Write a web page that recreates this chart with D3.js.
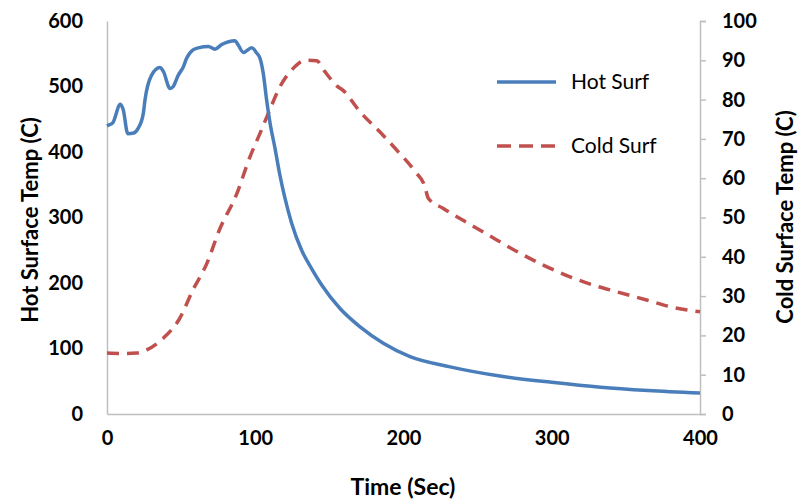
<!DOCTYPE html>
<html>
<head>
<meta charset="utf-8">
<script src="https://cdn.jsdelivr.net/npm/d3@7"></script>
<style>
  body { margin: 0; background: #fff; }
  text { font-family: Lato, "Open Sans", sans-serif; }
</style>
</head>
<body>
<div id="chart"></div>
<script>
// time (sec) and hot surface temperature
const hotTime = [0, 1, 4, 9, 11, 14, 18, 21, 24.5, 25.6, 30, 35.7, 38, 42.5, 44.7, 48, 51.5, 53.7, 58, 61.6, 68.4, 72.8, 77.4, 86.3, 88.6, 92, 97.6, 101, 103.2, 105.4, 107.7, 110, 113.3, 116.5, 120, 124.6, 131.3, 138, 144.8, 157.2, 170.7, 186.4, 204.4, 231.4, 265, 300, 333, 365, 400];
const hotTemp = [440, 441, 445, 473, 464, 428, 429, 436, 459, 479, 517, 529, 523, 497, 500, 517, 530, 543, 556, 559, 561, 557, 564, 570, 563, 552, 559, 551, 543, 520, 479, 444, 406, 366, 330, 291, 250, 222, 197, 161, 133, 108, 87.5, 72, 58, 48.5, 41, 36, 32];

// time (sec) and cold surface temperature (right axis)
const coldTime = [0, 10, 20, 26.8, 38, 49, 58, 67, 76, 87.5, 96.5, 103.2, 108.8, 116.7, 125.7, 133.6, 141.4, 147, 155, 159.4, 170.7, 184, 196.5, 207.8, 214.5, 216.7, 226.9, 247, 262.9, 278.6, 294.3, 312.3, 328, 343.8, 364, 382, 400];
const coldTemp = [15.5, 15.4, 15.5, 16.3, 19.3, 24.3, 31.6, 38, 47, 56, 65.5, 71.4, 76.5, 83.3, 88, 90, 89.9, 87.1, 83.5, 82.3, 76.9, 71.8, 66.7, 61.7, 57.8, 54.9, 52.3, 47.8, 44.3, 40.9, 37.9, 34.9, 32.8, 31.1, 29, 27.1, 26];

const xTicks = [0, 100, 200, 300, 400];
const leftTicks = [0, 100, 200, 300, 400, 500, 600];
const rightTicks = [0, 10, 20, 30, 40, 50, 60, 70, 80, 90, 100];
const seriesNames = ['Hot Surf', 'Cold Surf'];

const W = 798, H = 499;
const m = { left: 107, right: 700, top: 21, bottom: 414 };
const hotColor = '#4a7ebb', coldColor = '#c0504d', axisColor = '#bfbfbf';

let svg = d3.select('#chart').append('svg')
    .attr('width', W).attr('height', H);

let x = d3.scaleLinear().domain([0, 400]).range([m.left, m.right]);
let yL = d3.scaleLinear().domain([0, 600]).range([m.bottom, m.top]);
let yR = d3.scaleLinear().domain([0, 100]).range([m.bottom, m.top]);

// axes
let axX = svg.append('g').attr('transform', `translate(0,${m.bottom})`)
    .call(d3.axisBottom(x).tickValues(xTicks).tickSize(0).tickPadding(17));
let axL = svg.append('g').attr('transform', `translate(${m.left},0)`)
    .call(d3.axisLeft(yL).tickValues(leftTicks).tickSize(0).tickPadding(24));
let axR = svg.append('g').attr('transform', `translate(${m.right},0)`)
    .call(d3.axisRight(yR).tickValues(rightTicks).tickSize(6).tickPadding(16));

[axX, axL, axR].forEach(a => {
    a.selectAll('.domain').attr('stroke', axisColor).attr('stroke-width', 1.5);
    a.selectAll('line').attr('stroke', axisColor).attr('stroke-width', 1.5);
    a.selectAll('text')
        .attr('font-family', 'Lato, sans-serif')
        .attr('font-size', 20).attr('font-weight', 'bold').attr('fill', '#000');
});

// lines
let hotData = hotTime.map((t, i) => [t, hotTemp[i]]);
let coldData = coldTime.map((t, i) => [t, coldTemp[i]]);

svg.append('path')
    .attr('d', d3.line().curve(d3.curveMonotoneX).x(d => x(d[0])).y(d => yR(d[1]))(coldData))
    .attr('fill', 'none').attr('stroke', coldColor).attr('stroke-width', 3.5)
    .attr('stroke-dasharray', '12,8');

svg.append('path')
    .attr('d', d3.line().curve(d3.curveMonotoneX).x(d => x(d[0])).y(d => yL(d[1]))(hotData))
    .attr('fill', 'none').attr('stroke', hotColor).attr('stroke-width', 3.5)
    .attr('stroke-linejoin', 'round');

// axis titles
svg.append('text').text('Time (Sec)')
    .attr('x', 403).attr('y', 495).attr('text-anchor', 'middle')
    .attr('font-size', 23).attr('font-weight', 'bold');
svg.append('text').text('Hot Surface Temp (C)')
    .attr('transform', 'translate(38,220) rotate(-90)').attr('text-anchor', 'middle')
    .attr('font-size', 22).attr('font-weight', 'bold');
svg.append('text').text('Cold Surface Temp (C)')
    .attr('transform', 'translate(793,217) rotate(-90)').attr('text-anchor', 'middle')
    .attr('font-size', 22).attr('font-weight', 'bold');

// legend
let legend = svg.append('g');
seriesNames.forEach((name, i) => {
    let ly = 82 + i * 64;
    legend.append('line')
        .attr('x1', 497).attr('x2', 556).attr('y1', ly).attr('y2', ly)
        .attr('stroke', i === 0 ? hotColor : coldColor).attr('stroke-width', 3.5)
        .attr('stroke-dasharray', i === 0 ? null : '14,8');
    legend.append('text').text(name)
        .attr('x', 571).attr('y', ly + 7)
        .attr('font-size', 21);
});
</script>
</body>
</html>
